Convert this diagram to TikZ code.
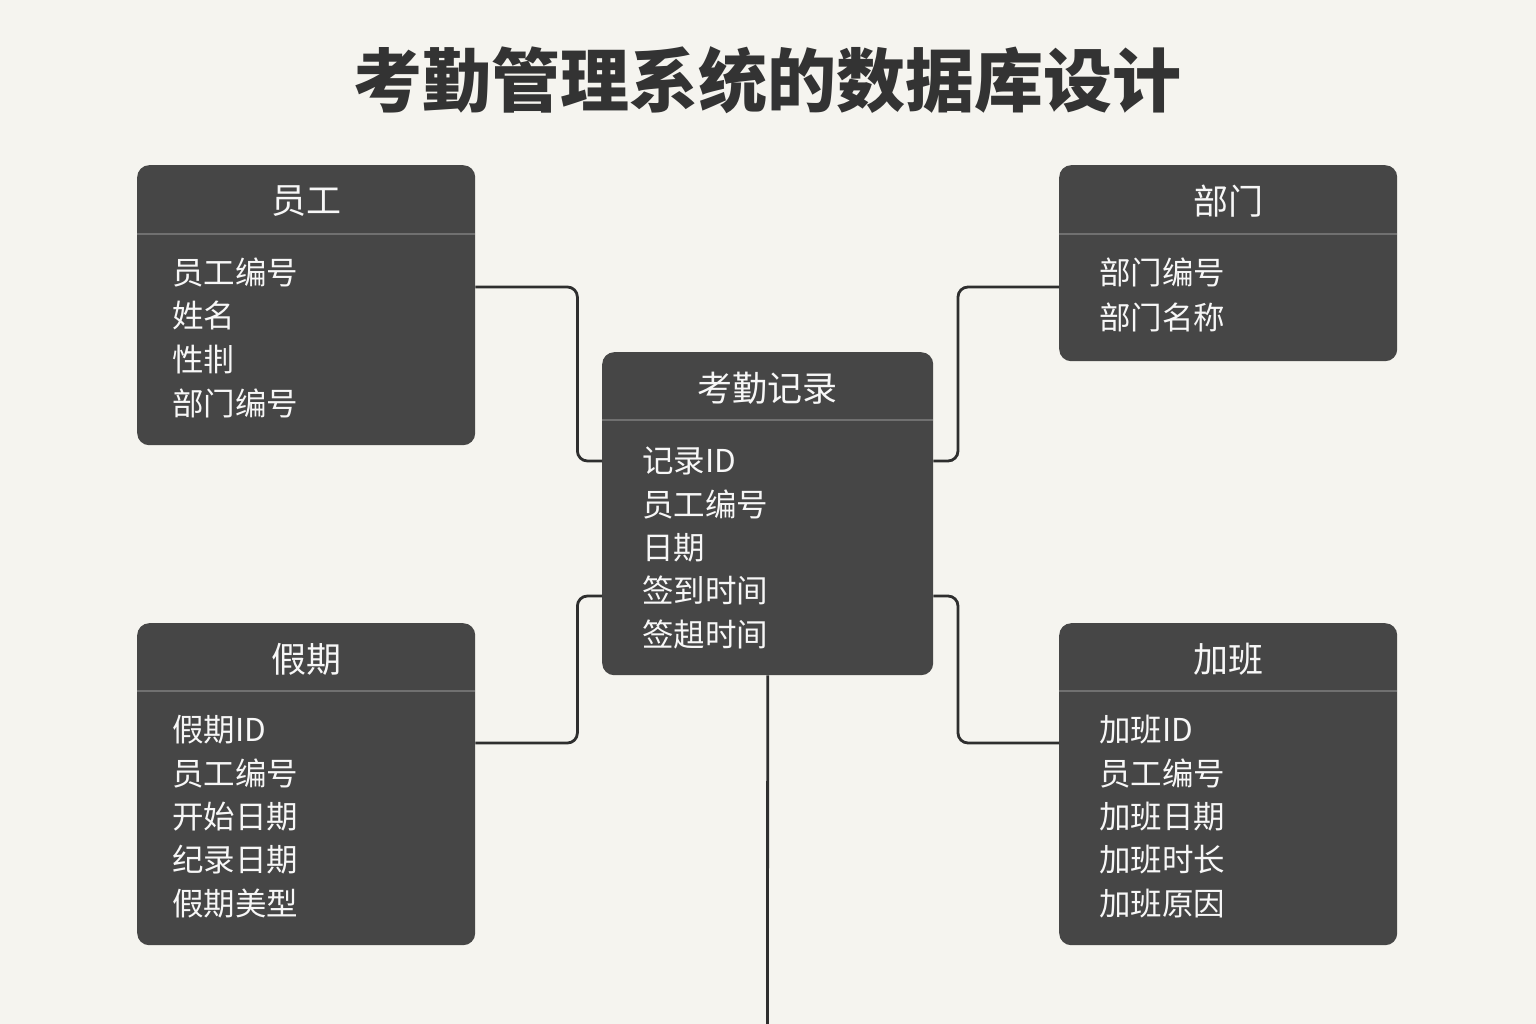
\documentclass[tikz,border=0pt]{standalone}
\usepackage{fontspec}
\setmainfont{Noto Sans CJK SC}
\usetikzlibrary{calc}
\definecolor{bgc}{HTML}{F5F4EF}
\definecolor{boxc}{HTML}{464646}
\definecolor{linec}{HTML}{2E2E2E}
\definecolor{sepc}{HTML}{707070}
\definecolor{txtc}{HTML}{F7F7F7}
\definecolor{titlec}{HTML}{333333}
\begin{document}
\begin{tikzpicture}[x=1pt,y=-1pt,
  tbl/.style={fill=boxc, rounded corners=12pt, minimum width=338pt, inner sep=0pt, anchor=north west},
  hdr/.style={text=txtc, font=\fontsize{35}{38}\selectfont, inner sep=0pt},
  fld/.style={text=txtc, font=\fontsize{31.5}{35}\selectfont, inner sep=0pt, anchor=west},
  sep/.style={draw=sepc, line width=1.2pt},
  conn/.style={draw=linec, line width=2.8pt, rounded corners=10pt}]
\fill[bgc] (0,0) rectangle (1536,1024);
\useasboundingbox (0,0) rectangle (1536,1024);

\node[font=\fontsize{69}{72}\selectfont\bfseries, text=titlec, inner sep=0pt] (title) at (767,80) {考勤管理系统的数据库设计};

% table boxes
\node[tbl, minimum height=280pt] (emp) at (137,165) {};
\node[tbl, minimum height=196pt] (dept) at (1059,165) {};
\node[tbl, minimum width=331pt, minimum height=323pt] (rec) at (602,352) {};
\node[tbl, minimum height=322pt] (hol) at (137,623) {};
\node[tbl, minimum height=322pt] (ot) at (1059,623) {};

% connectors
\coordinate (bot) at (767.5,1024);
\draw[conn] ($(emp.north east)+(0,122)$) -- ++(102,0) |- ($(rec.north west)+(0,109)$);
\draw[conn] ($(dept.north west)+(0,122)$) -- ++(-101,0) |- ($(rec.north east)+(0,109)$);
\draw[conn] ($(hol.north east)+(0,120)$) -- ++(102,0) |- ($(rec.north west)+(0,244)$);
\draw[conn] ($(ot.north west)+(0,120)$) -- ++(-101,0) |- ($(rec.north east)+(0,244)$);
\draw[conn] (rec.south) -- (bot);

% separators
\draw[sep] ($(emp.north west)+(0,69)$) -- ($(emp.north east)+(0,69)$);
\draw[sep] ($(dept.north west)+(0,69)$) -- ($(dept.north east)+(0,69)$);
\draw[sep] ($(rec.north west)+(0,68)$) -- ($(rec.north east)+(0,68)$);
\draw[sep] ($(hol.north west)+(0,68)$) -- ($(hol.north east)+(0,68)$);
\draw[sep] ($(ot.north west)+(0,68)$) -- ($(ot.north east)+(0,68)$);

% headers
\node[hdr] (empH) at ($(emp.north)+(0,36)$) {员工};
\node[hdr] (deptH) at ($(dept.north)+(0,36)$) {部门};
\node[hdr] (recH) at ($(rec.north)+(0,36)$) {考勤记录};
\node[hdr] (holH) at ($(hol.north)+(0,36)$) {假期};
\node[hdr] (otH) at ($(ot.north)+(0,36)$) {加班};

% fields
\foreach \t [count=\i] in {员工编号,姓名,性剕,部门编号}
  \node[fld] (empF\i) at (172,{272+43.7*(\i-1)}) {\t};
\foreach \t [count=\i] in {部门编号,部门名称}
  \node[fld] (deptF\i) at (1099,{272+45*(\i-1)}) {\t};
\foreach \t [count=\i] in {记录ID,员工编号,日期,签到时间,签趄时间}
  \node[fld] (recF\i) at (642,{461+43.3*(\i-1)}) {\t};
\foreach \t [count=\i] in {假期ID,员工编号,开始日期,纪录日期,假期美型}
  \node[fld] (holF\i) at (172,{730+43.3*(\i-1)}) {\t};
\foreach \t [count=\i] in {加班ID,员工编号,加班日期,加班时长,加班原因}
  \node[fld] (otF\i) at (1099,{730+43.3*(\i-1)}) {\t};
\end{tikzpicture}
\end{document}
